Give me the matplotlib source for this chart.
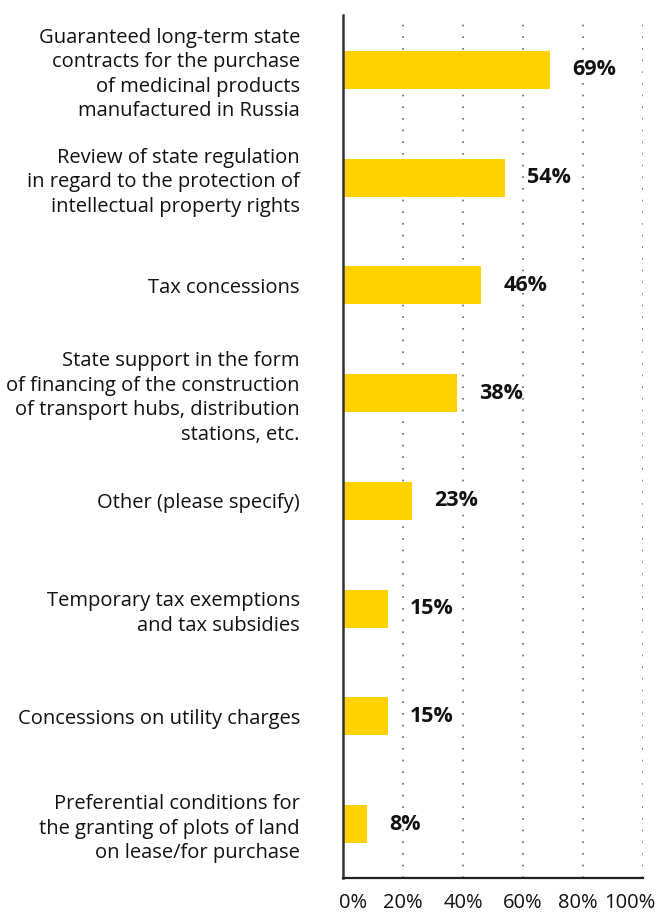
import matplotlib.pyplot as plt
import matplotlib.transforms as mtransforms

categories = [
    "Guaranteed long-term state\ncontracts for the purchase\nof medicinal products\nmanufactured in Russia",
    "Review of state regulation\nin regard to the protection of\nintellectual property rights",
    "Tax concessions",
    "State support in the form\nof financing of the construction\nof transport hubs, distribution\nstations, etc.",
    "Other (please specify)",
    "Temporary tax exemptions\nand tax subsidies",
    "Concessions on utility charges",
    "Preferential conditions for\nthe granting of plots of land\non lease/for purchase",
]
values = [69, 54, 46, 38, 23, 15, 15, 8]
xticks = [0, 20, 40, 60, 80, 100]
xtick_labels = ["0%", "20%", "40%", "60%", "80%", "100%"]

plt.rcParams["font.family"] = ["Open Sans", "DejaVu Sans"]

fig = plt.figure(figsize=(6.59, 9.15), dpi=100)
ax = fig.add_axes([343/659, 1-878/915, 300/659, 863/915])

ypos = list(range(len(values)))
ax.barh(ypos, values, height=0.353, color="#FFD200", zorder=2)
ax.set_ylim(len(values)-0.5, -0.51)
ax.set_xlim(0, 100)

for y, v in zip(ypos, values):
    ax.annotate("%d%%" % v, (v, y), xytext=(16, 0), textcoords="offset points",
                ha="left", va="center", fontsize=15.5, fontweight="bold",
                color="#111111")

for x in xticks[1:]:
    ax.axvline(x, color="#666666", lw=1.2, linestyle=(0, (1, 6)), zorder=1)

for s in ["top", "right"]:
    ax.spines[s].set_visible(False)
ax.spines["left"].set_linewidth(1.8)
ax.spines["bottom"].set_linewidth(1.6)
ax.spines["left"].set_color("#333333")
ax.spines["bottom"].set_color("#222222")

ax.set_yticks(ypos)
ax.set_yticklabels(categories, fontsize=14.5, ha="right", linespacing=1.3,
                   color="#111111")
ax.tick_params(axis="y", length=0, pad=31)

ax.set_xticks(xticks)
ax.set_xticklabels(xtick_labels, fontsize=14.5, color="#111111")
ax.tick_params(axis="x", length=0, pad=11)
shifts = [10, 0, 0, 0, -5, -13]
for lab, dx in zip(ax.get_xticklabels(), shifts):
    lab.set_transform(lab.get_transform() +
                      mtransforms.ScaledTranslation(dx/100, 0, fig.dpi_scale_trans))

fig.savefig("out.png", dpi=100)
